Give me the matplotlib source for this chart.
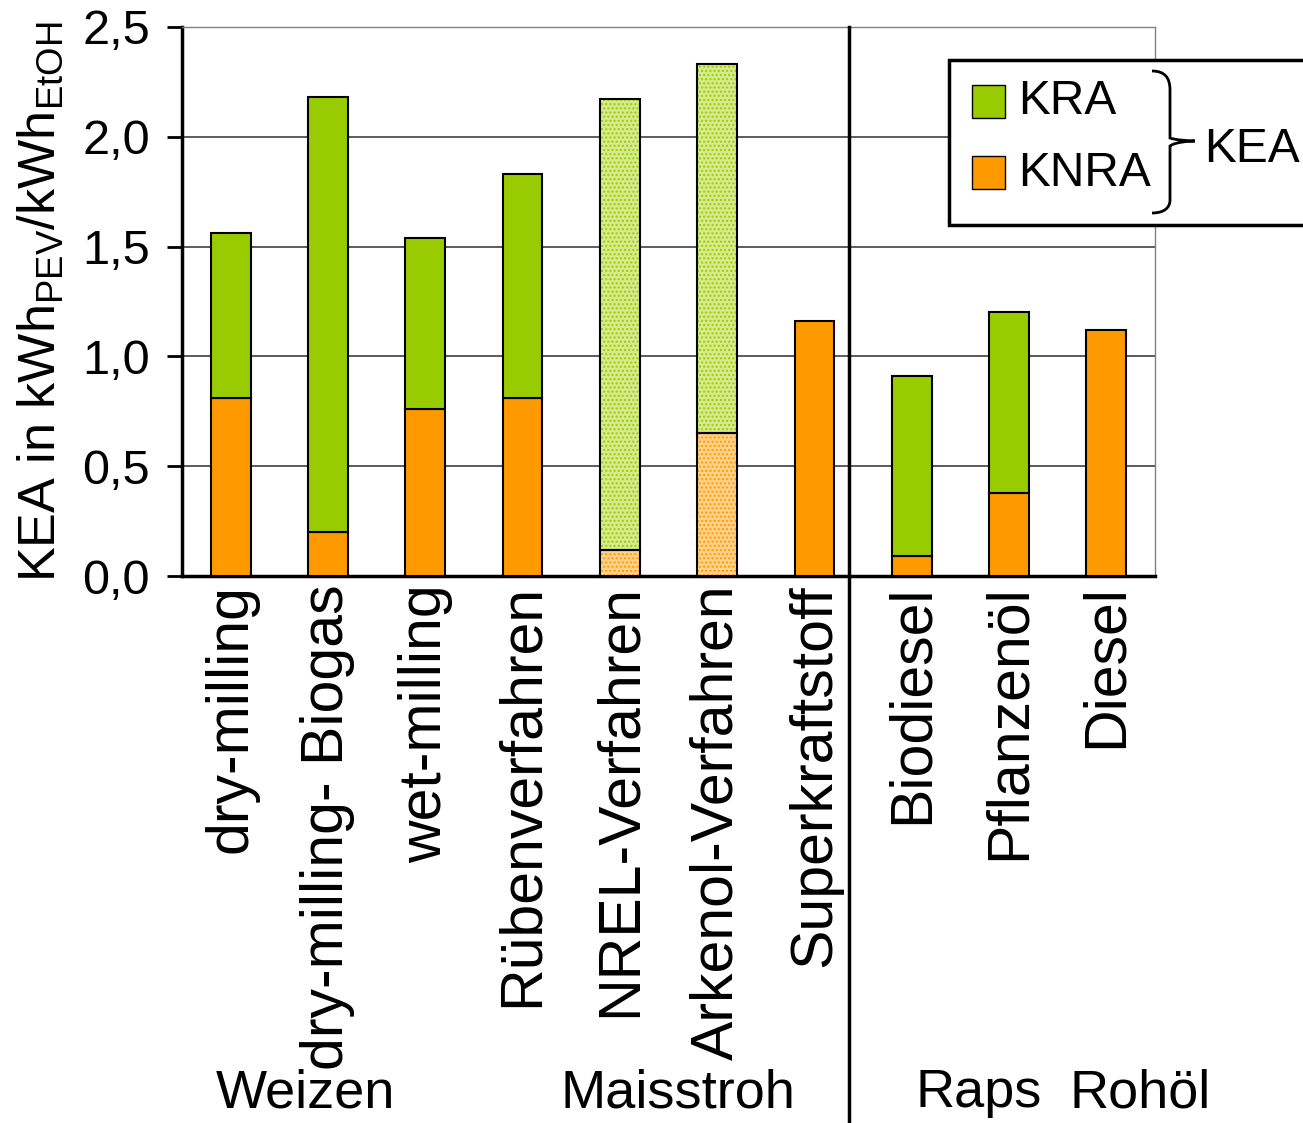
import numpy as np
import matplotlib.pyplot as plt
from matplotlib.path import Path
from matplotlib.patches import PathPatch, Rectangle
from matplotlib.lines import Line2D
import matplotlib.transforms as mtrans

plt.rcParams['font.family'] = ['Liberation Sans', 'DejaVu Sans']

# Daten
kategorien = ['dry-milling', 'dry-milling- Biogas', 'wet-milling', 'Rübenverfahren',
              'NREL-Verfahren', 'Arkenol-Verfahren', 'Superkraftstoff',
              'Biodiesel', 'Pflanzenöl', 'Diesel']
knra = [0.81, 0.20, 0.76, 0.81, 0.12, 0.65, 1.16, 0.09, 0.38, 1.12]
kra = [0.75, 1.98, 0.78, 1.02, 2.05, 1.68, 0.00, 0.82, 0.82, 0.00]
schraffiert = [False, False, False, False, True, True, False, False, False, False]
gruppen = ['Weizen', 'Maisstroh', 'Raps', 'Rohöl']
y_ticks = [0.0, 0.5, 1.0, 1.5, 2.0, 2.5]
y_ticklabels = ['0,0', '0,5', '1,0', '1,5', '2,0', '2,5']

GRUEN = '#99cc00'
ORANGE = '#ff9900'

W, H = 1303, 1123
fig = plt.figure(figsize=(W/100, H/100), dpi=100)
ax = fig.add_axes([182/W, 1-576/H, (1155-182)/W, (576-27)/H])

def px(x, y):
    return (x/W, 1-y/H)

x = np.arange(len(kategorien))
bw = 0.41
for i in range(len(kategorien)):
    for unten, wert, farbe, hell in [(0, knra[i], ORANGE, '#ffd28c'),
                                     (knra[i], kra[i], GRUEN, '#d6eb8f')]:
        if wert <= 0:
            continue
        if schraffiert[i]:
            ax.bar(x[i], wert, bw, bottom=unten, color=hell, edgecolor=farbe,
                   hatch='....', linewidth=0, zorder=3)
            ax.bar(x[i], wert, bw, bottom=unten, fill=False, edgecolor='black',
                   linewidth=1.5, zorder=4)
        else:
            ax.bar(x[i], wert, bw, bottom=unten, color=farbe, edgecolor='black',
                   linewidth=1.5, zorder=3)

ax.set_xlim(-0.5, 9.5)
ax.set_ylim(0, 2.5)
ax.set_yticks(y_ticks)
ax.set_yticklabels(y_ticklabels, fontsize=35)
ax.yaxis.grid(True, color='#404040', linewidth=1.2, zorder=0)
ax.set_axisbelow(True)
ax.tick_params(axis='y', direction='out', length=11, width=2, pad=12)
ax.set_xticks(x)
ax.set_xticklabels(kategorien, rotation=90, fontsize=42.5, va='top', ha='center')
ax.tick_params(axis='x', length=0, pad=6)
for s in ['left', 'bottom']:
    ax.spines[s].set_linewidth(2.5)
for s in ['top', 'right']:
    ax.spines[s].set_color('#808080')
    ax.spines[s].set_linewidth(1)

ax.set_ylabel(r'KEA in kWh$_{\mathregular{PEV}}$/kWh$_{\mathregular{EtOH}}$',
              fontsize=37.5)
ax.yaxis.set_label_coords((66-182)/(1155-182), 0.5)

# Trennlinie
tr = mtrans.blended_transform_factory(ax.transData, fig.transFigure)
fig.add_artist(Line2D([6.35, 6.35], [0, 1-27/H], transform=tr, color='black', lw=2.5))

# Gruppenbeschriftungen
for name, xp in zip(gruppen, [305, 678, 979, 1140]):
    fig.text(*px(xp, 1093), name, fontsize=39, ha='center', va='center')

# Legende
fig.add_artist(Rectangle(px(949, 225), (1303-949+5)/W, (225-60)/H,
                         transform=fig.transFigure, facecolor='white',
                         edgecolor='black', linewidth=2.5))
for yy, farbe, txt in [(102, GRUEN, 'KRA'), (173, ORANGE, 'KNRA')]:
    fig.add_artist(Rectangle(px(972, yy+16), 33/W, 33/H, transform=fig.transFigure,
                             facecolor=farbe, edgecolor='black', linewidth=1))
    fig.text(*px(1018, yy), txt, fontsize=34.5, ha='left', va='center')
verts = [(1152, 71), (1165, 71), (1170, 78), (1170, 90),
         (1170, 110), (1170, 128), (1170, 138),
         (1175, 140), (1190, 141), (1195, 141),
         (1190, 141), (1175, 142), (1170, 146),
         (1170, 160), (1170, 180), (1170, 200),
         (1170, 207), (1165, 213), (1152, 213)]
codes = [Path.MOVETO] + [Path.CURVE4] * 18
verts = [px(a, b) for a, b in verts]
fig.add_artist(PathPatch(Path(verts, codes), transform=fig.transFigure,
                         fill=False, edgecolor='black', lw=2))
fig.text(*px(1204, 150), 'KEA', fontsize=34.5, ha='left', va='center')

fig.savefig('out.png', dpi=100)
